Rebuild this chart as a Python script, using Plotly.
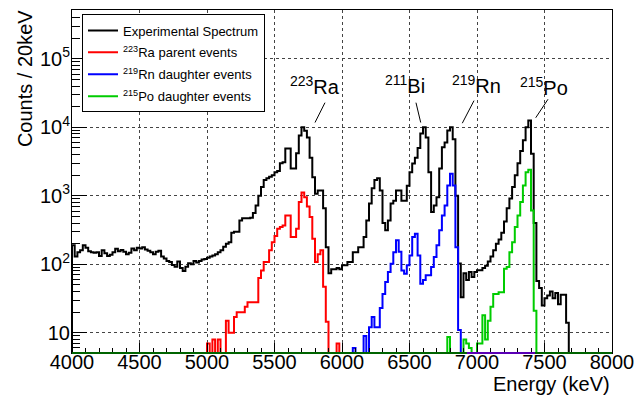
import plotly.graph_objects as go

BIN = 20  # keV per bin

# ---------------- data (counts per 20 keV bin, first bin edge given) ----------------
exp_start = 4000
exp_counts = [
    190, 130, 150, 160, 190, 175, 155, 150, 148, 150,
    132, 160, 145, 132, 138, 150, 168, 155, 162, 152,
    140, 148, 170, 160, 175, 170, 178, 165, 158, 150,
    140, 152, 158, 130, 122, 112, 108, 98, 92, 110,
    88, 80, 92, 104, 100, 112, 106, 112, 118, 120,
    125, 130, 135, 140, 150, 160, 180, 200, 210, 290,
    300, 300, 437, 470, 470, 470, 480, 560, 720, 1000,
    1350, 1700, 1800, 1900, 2000, 2200, 2300, 3000, 3100, 4900,
    4900, 2500, 2500, 4200, 7600, 10000, 8900, 7100, 3600, 1860,
    1070, 1200, 1200, 660, 178, 74, 85, 85, 88, 85,
    97, 97, 108, 108, 150, 150, 178, 178, 250, 437,
    770, 1290, 1700, 1800, 1200, 400, 315, 437, 770, 850,
    1200, 1200, 850, 850, 1400, 2200, 2960, 3600, 5000, 8100,
    10000, 7100, 2200, 580, 720, 950, 2500, 5100, 6000, 9000,
    10000, 6700, 1000, 103, 33, 74, 59, 77, 65, 77,
    82, 82, 88, 95, 110, 130, 160, 200, 230, 290,
    420, 660, 910, 1340, 2000, 3000, 4500, 6500, 10000, 12600,
    4100, 400, 57, 45, 25, 32, 35, 40, 32, 38,
    26, 36, 36, 14,
]

ra_start = 5000
ra_counts = [
    7, 0, 8, 0, 8, 0, 0, 15, 10, 10,
    17, 20, 20, 20, 24, 28, 28, 28, 28, 63,
    81, 108, 108, 160, 210, 260, 330, 350, 370, 515,
    515, 250, 250, 330, 810, 1120, 950, 700, 490, 236,
    108, 140, 160, 47, 14.5, 0, 0, 0, 7,
]

rn_start = 6080
rn_counts = [
    6, 0, 0, 0, 9, 0, 12, 17, 12, 12,
    23, 37, 55, 77, 102, 150, 224, 152, 81, 73,
    97, 135, 250, 280, 135, 52, 59, 69, 69, 91,
    128, 190, 315, 515, 720, 1410, 2100, 1410, 178, 11,
]

po_start = 6780
po_counts = [
    8.7, 0, 0, 0, 0, 0, 8, 7, 6, 0,
    0, 7, 7, 18, 8, 15, 24, 37, 37, 39,
    39, 86, 91, 150, 210, 350, 515, 810, 1410, 2200,
    2400, 610, 21,
]

series_names = [
    "Experimental Spectrum",
    "<sup>223</sup>Ra parent events",
    "<sup>219</sup>Rn daughter events",
    "<sup>215</sup>Po daughter events",
]
series_colors = ["#000000", "#ff0000", "#0000ff", "#00cc00"]

x_tick_vals = [4000, 4500, 5000, 5500, 6000, 6500, 7000, 7500, 8000]
y_tick_vals = [10, 100, 1000, 10000, 100000]
y_tick_text = ["10", "10<sup>2</sup>", "10<sup>3</sup>", "10<sup>4</sup>", "10<sup>5</sup>"]

peak_labels = ["<sup>223</sup>Ra", "<sup>211</sup>Bi", "<sup>219</sup>Rn", "<sup>215</sup>Po"]
peak_label_x = [5800, 6467, 6996, 7496]
peak_label_logy = [4.61, 4.62, 4.62, 4.60]
peak_line_from = [(5800, 4.07), (6583, 4.07), (6891, 4.06), (7435, 4.14)]
peak_line_to = [(5874, 4.36), (6548, 4.36), (6978, 4.39), (7526, 4.41)]

Y_LOG_RANGE = [0.705, 5.713]
FLOOR = 1e-3  # empty bins drawn below the visible range


def step_xy(start, counts):
    edges = [start - BIN] + [start + BIN * i for i in range(len(counts) + 1)]
    ys = [FLOOR] + [c if c > 0 else FLOOR for c in counts] + [FLOOR]
    return edges, ys


def log_to_paper(v):
    return (v - Y_LOG_RANGE[0]) / (Y_LOG_RANGE[1] - Y_LOG_RANGE[0])


FONT = "Liberation Sans, Arial, Helvetica, sans-serif"

fig = go.Figure()
for i, ((start, counts), name, color) in enumerate(zip(
    [(exp_start, exp_counts), (ra_start, ra_counts), (rn_start, rn_counts), (po_start, po_counts)],
    series_names,
    series_colors,
)):
    xs, ys = step_xy(start, counts)
    fig.add_trace(
        go.Scatter(
            x=xs, y=ys, mode="lines", name=name, legendgroup=f"g{i}",
            line=dict(color=color, width=2, shape="hv"),
        )
    )

for txt, xv, yv in zip(peak_labels, peak_label_x, peak_label_logy):
    fig.add_annotation(
        x=xv, y=yv, xref="x", yref="y", text=txt, showarrow=False,
        font=dict(family=FONT, size=20, color="black"),
        xanchor="center", yanchor="middle",
    )
for (x0, y0), (x1, y1) in zip(peak_line_from, peak_line_to):
    fig.add_shape(type="line", xref="x", yref="paper",
                  x0=x0, y0=log_to_paper(y0), x1=x1, y1=log_to_paper(y1),
                  line=dict(color="black", width=1))

# axis titles (ROOT style placement)
fig.add_annotation(
    x=-0.088, y=0.80, xref="paper", yref="paper", text="Counts / 20keV",
    textangle=-90, showarrow=False, font=dict(family=FONT, size=20, color="black"),
    xanchor="center", yanchor="middle",
)
fig.add_annotation(
    x=1.0, y=-0.09, xref="paper", yref="paper", text="Energy (keV)",
    showarrow=False, font=dict(family=FONT, size=20, color="black"),
    xanchor="right", yanchor="middle",
)

# zero-level lines of the sub-spectra along the bottom frame
fig.add_shape(type="line", xref="paper", yref="paper", x0=0, x1=1, y0=0, y1=0,
              line=dict(color="#006400", width=2))
fig.add_shape(type="line", xref="x", yref="paper", x0=6925, x1=7430, y0=0, y1=0,
              line=dict(color="#5a00b5", width=2))

minor_y = [m * 10 ** d for d in range(0, 6) for m in range(2, 10)]

fig.update_layout(
    width=636, height=392, autosize=False,
    margin=dict(l=64, r=32, t=1.5, b=47),
    paper_bgcolor="white", plot_bgcolor="white",
    font=dict(family=FONT, color="black"),
    showlegend=True,
    legend=dict(
        x=(82 - 72) / 540, y=(353 - 14) / 343.5, xanchor="left", yanchor="top",
        bgcolor="white", bordercolor="black", borderwidth=1,
        font=dict(family=FONT, size=13, color="black"),
        tracegroupgap=2,
    ),
    xaxis=dict(
        range=[4000, 8000], tickmode="array", tickvals=x_tick_vals,
        ticks="inside", ticklen=10, tickcolor="black", tickwidth=1,
        tickfont=dict(family=FONT, size=20, color="black"),
        ticklabelstandoff=-9,
        showgrid=True, gridcolor="#444", griddash="dot", gridwidth=1,
        showline=True, linecolor="black", linewidth=1, mirror=True,
        zeroline=False,
        minor=dict(dtick=100, ticks="inside", ticklen=5, tickcolor="black", showgrid=False),
    ),
    yaxis=dict(
        type="log", range=Y_LOG_RANGE,
        tickmode="array", tickvals=y_tick_vals, ticktext=y_tick_text,
        ticks="inside", ticklen=15, tickcolor="black", tickwidth=1,
        tickfont=dict(family=FONT, size=20, color="black"),
        ticklabelstandoff=-3,
        showgrid=True, gridcolor="#444", griddash="dot", gridwidth=1,
        showline=True, linecolor="black", linewidth=1, mirror=True,
        zeroline=False,
        minor=dict(tickmode="array", tickvals=minor_y, ticks="inside", ticklen=8,
                   tickcolor="black", showgrid=False),
    ),
)

fig.write_html("out.html")
